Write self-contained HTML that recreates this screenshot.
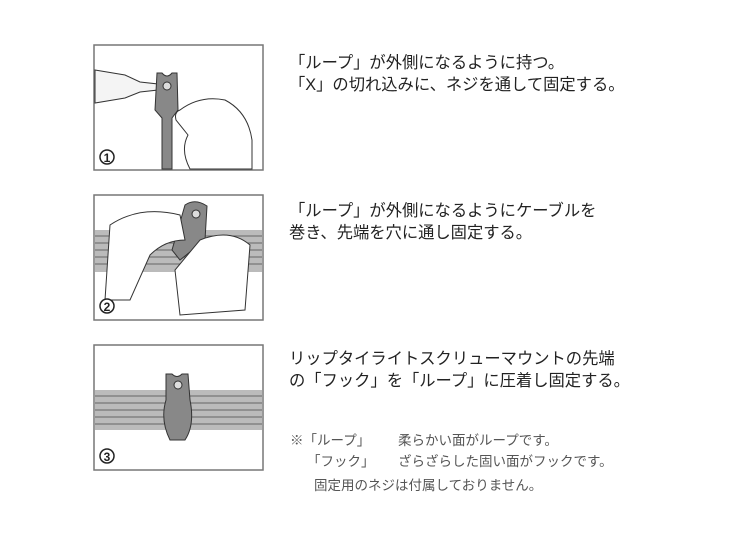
<!DOCTYPE html>
<html><head><meta charset="utf-8"><style>
body{margin:0;width:740px;height:540px;background:#fff;position:relative;font-family:"Liberation Sans","Noto Sans CJK JP",sans-serif;overflow:hidden}
.t{position:absolute;left:289px;font-size:16.3px;color:#222;line-height:22px;white-space:nowrap}
.n{position:absolute;font-size:13.5px;color:#555;white-space:nowrap;line-height:20px}
svg{position:absolute;left:0;top:0}
</style></head><body>
<svg width="740" height="540">
<g fill="none" stroke="#777" stroke-width="1.5">
<rect x="94" y="45" width="169" height="125"/>
<rect x="94" y="195" width="169" height="125"/>
<rect x="94" y="345" width="169" height="125"/>
</g>
<!-- panel 1 -->
<path d="M95 70 L125 75 L140 82 L158 84 L158 90 L140 92 L125 98 L95 103Z" fill="#f4f4f4" stroke="#333"/>
<path d="M157 73 L162 73 Q167 79 172 73 L177 73 L178 110 L172 118 L172 169 L162 169 L162 118 L155 110Z" fill="#888" stroke="#333"/>
<circle cx="167" cy="86" r="4" fill="#ddd" stroke="#333"/>
<path d="M180 110 Q200 95 225 100 Q248 112 252 140 L252 169 L190 169 Q180 150 188 135 L176 120 Q174 112 180 110Z" fill="#fff" stroke="#333"/>
<circle cx="107" cy="157" r="7" fill="#fff" stroke="#222" stroke-width="1.5"/>
<text x="107" y="162" font-size="12" font-weight="bold" text-anchor="middle" fill="#222">1</text>
<!-- panel 2 -->
<rect x="95" y="230" width="167" height="42" fill="#bbb"/>
<g stroke="#666" stroke-width="1"><line x1="95" y1="236" x2="262" y2="236"/><line x1="95" y1="243" x2="262" y2="243"/><line x1="95" y1="250" x2="262" y2="250"/><line x1="95" y1="257" x2="262" y2="257"/><line x1="95" y1="264" x2="262" y2="264"/></g>
<path d="M185 205 Q195 198 207 206 L205 240 L180 260 L172 250Z" fill="#888" stroke="#333"/>
<circle cx="196" cy="214" r="4" fill="#ddd" stroke="#333"/>
<path d="M110 225 Q140 205 180 215 L185 240 Q165 240 150 255 L130 300 L105 300Z" fill="#fff" stroke="#333"/>
<path d="M200 240 Q230 228 250 245 L245 310 L180 315 L175 270Z" fill="#fff" stroke="#333"/>
<circle cx="107" cy="306" r="7" fill="#fff" stroke="#222" stroke-width="1.5"/>
<text x="107" y="311" font-size="12" font-weight="bold" text-anchor="middle" fill="#222">2</text>
<!-- panel 3 -->
<rect x="95" y="390" width="167" height="40" fill="#bbb"/>
<g stroke="#666" stroke-width="1"><line x1="95" y1="396" x2="262" y2="396"/><line x1="95" y1="403" x2="262" y2="403"/><line x1="95" y1="410" x2="262" y2="410"/><line x1="95" y1="417" x2="262" y2="417"/><line x1="95" y1="424" x2="262" y2="424"/></g>
<path d="M166 374 L172 374 Q177 379 182 374 L188 374 L190 400 Q195 425 185 440 L170 440 Q160 420 166 400Z" fill="#888" stroke="#333"/>
<circle cx="178" cy="385" r="4" fill="#ddd" stroke="#333"/>
<circle cx="107" cy="456" r="7" fill="#fff" stroke="#222" stroke-width="1.5"/>
<text x="107" y="461" font-size="12" font-weight="bold" text-anchor="middle" fill="#222">3</text>
</svg>
<div class="t" style="top:52px">「ループ」が外側になるように持つ。<br>「X」の切れ込みに、ネジを通して固定する。</div>
<div class="t" style="top:200px">「ループ」が外側になるようにケーブルを<br>巻き、先端を穴に通し固定する。</div>
<div class="t" style="top:348px">リップタイライトスクリューマウントの先端<br>の「フック」を「ループ」に圧着し固定する。</div>
<div class="n" style="left:290px;top:431px">※「ループ」</div>
<div class="n" style="left:398px;top:431px">柔らかい面がループです。</div>
<div class="n" style="left:307px;top:452px">「フック」</div>
<div class="n" style="left:398px;top:452px">ざらざらした固い面がフックです。</div>
<div class="n" style="left:314px;top:476px">固定用のネジは付属しておりません。</div>
</body></html>
